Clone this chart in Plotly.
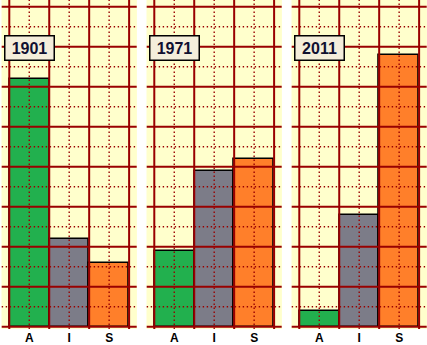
import plotly.graph_objects as go

# Workforce share (%) by sector for three census years
sectors = ["A", "I", "S"]
years = ["1901", "1971", "2011"]
share_1901 = [62, 22, 16]
share_1971 = [19, 39, 42]
share_2011 = [4, 28, 68]
series = [share_1901, share_1971, share_2011]

bar_colors = ["#22b04e", "#7c7c88", "#ff7f2a"]
bg = "#ffffcc"
grid_col = "#990000"

W, H = 427, 345
panel_px = 135
gap_px = 10
left_px = 1.7
bottom_margin = 16

fig = go.Figure()
shapes = []
annotations = []

major_y = list(range(0, 81, 10))
minor_y = list(range(5, 80, 10))
major_x = [-0.5, 0.5, 1.5, 2.5]
minor_x = [0, 1, 2]
dot = dict(color=grid_col, width=1.4, dash="1.4px,2.6px")
solid = dict(color=grid_col, width=2)

for i, (year, vals) in enumerate(zip(years, series)):
    n = "" if i == 0 else str(i + 1)
    xa, ya = "x" + n, "y" + n
    x0 = (left_px + i * (panel_px + gap_px)) / W
    x1 = (left_px + i * (panel_px + gap_px) + panel_px) / W
    fig.add_trace(go.Bar(
        x=sectors, y=vals, xaxis=xa, yaxis=ya,
        marker=dict(color=bar_colors, line=dict(color="#000000", width=1.5)),
        width=1, showlegend=False, hoverinfo="x+y",
    ))
    fig.update_layout(**{
        ("xaxis" + n): dict(
            domain=[x0, x1], anchor=ya, range=[-0.69, 2.69],
            showgrid=False, zeroline=False, showline=False, ticks="",
            tickvals=sectors, ticktext=["<b>%s</b>" % s for s in sectors],
            tickfont=dict(family="Arial, Liberation Sans", size=12, color="#000000"),
            fixedrange=True,
        ),
        ("yaxis" + n): dict(
            domain=[0, 1], anchor=xa, range=[-0.58, 81.7],
            showgrid=False, zeroline=False, showline=False,
            showticklabels=False, ticks="", fixedrange=True,
        ),
    })

    # grid drawn over the bars
    dref = xa + " domain"
    ydref = ya + " domain"
    for yv in minor_y:
        shapes.append(dict(type="line", layer="above", xref=dref, yref=ya,
                           x0=0, x1=1, y0=yv, y1=yv, line=dot))
    for xv in minor_x:
        shapes.append(dict(type="line", layer="above", xref=xa, yref=ydref,
                           x0=xv, x1=xv, y0=0, y1=1, line=dot))
    for yv in major_y:
        shapes.append(dict(type="line", layer="above", xref=dref, yref=ya,
                           x0=0, x1=1, y0=yv, y1=yv, line=solid))
    for xv in major_x:
        shapes.append(dict(type="line", layer="above", xref=xa, yref=ydref,
                           x0=xv, x1=xv, y0=0, y1=1, line=solid))

    annotations.append(dict(
        text="<b>" + year + "</b>", xref=dref, yref=ya,
        x=0.204, y=69.6, xanchor="center", yanchor="middle", showarrow=False,
        font=dict(family="Arial, Liberation Sans", size=16, color="#101030"),
        bgcolor="#f4eedb", bordercolor="#000000", borderwidth=1.5,
        borderpad=0, width=48, height=23,
    ))

# panel backgrounds (plot_bgcolor is shared, so paint each panel area)
for i in range(3):
    n = "" if i == 0 else str(i + 1)
    shapes.append(dict(type="rect", layer="below",
                       xref="x" + n + " domain", yref="y" + n + " domain",
                       x0=0, x1=1, y0=0, y1=1, fillcolor=bg, line=dict(width=0)))

fig.update_layout(
    width=W, height=H,
    margin=dict(l=0, r=0, t=0, b=bottom_margin),
    paper_bgcolor="#ffffff", plot_bgcolor=bg,
    bargap=0, shapes=shapes, annotations=annotations,
)

fig.write_html("out.html")
